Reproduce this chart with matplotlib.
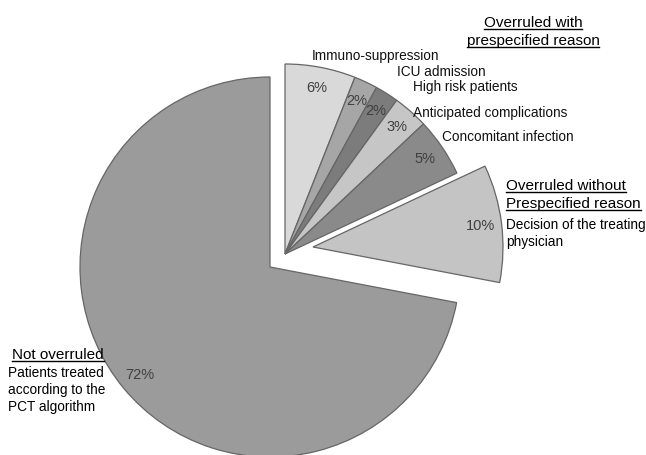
import numpy as np
import matplotlib
matplotlib.use("Agg")
import matplotlib.pyplot as plt

# slice values, clockwise from 12 o'clock
values = [6, 2, 2, 3, 5, 10, 72]
colors = ['#d9d9d9', '#a6a6a6', '#7c7c7c', '#c6c6c6', '#8a8a8a', '#c4c4c4', '#9b9b9b']
small_labels = ['Immuno-suppression', 'ICU admission', 'High risk patients',
                'Anticipated complications', 'Concomitant infection']

H = 455
main_c = (270, H - 267)
group_c = (285, H - 254)
dec_c = (313, H - 247)
R = 190

plt.rcParams['font.family'] = ['Liberation Sans', 'DejaVu Sans']

fig = plt.figure(figsize=(6.46, 4.55), dpi=100)
ax = fig.add_axes([0, 0, 1, 1])

wedges, texts, autotexts = ax.pie(values, colors=colors, startangle=90, counterclock=False,
                                  radius=R, center=main_c, autopct=lambda p: f'{p:.0f}%',
                                  pctdistance=0.89,
                                  wedgeprops=dict(edgecolor='#666666', linewidth=0.9),
                                  textprops=dict(fontsize=10.5, color='#404040'))

# pull the overruled slices away from the main slice
for i in range(6):
    c = group_c if i < 5 else dec_c
    dx, dy = c[0] - main_c[0], c[1] - main_c[1]
    wedges[i].set_center(c)
    x, y = autotexts[i].get_position()
    autotexts[i].set_position((x + dx, y + dy))

ax.set_xlim(0, 646)
ax.set_ylim(0, H)
ax.set_aspect('auto')
ax.axis('off')

fs = 9.8
hs = 11
lab_pos = [(312, 56), (397, 72), (413, 87), (413, 113), (442, 137)]
for t, (x, y) in zip(small_labels, lab_pos):
    ax.text(x, H - y, t, fontsize=fs, ha='left', va='center', color='#111111')

heads = []
heads.append(ax.text(533, H - 23, 'Overruled with', fontsize=hs, ha='center', va='center'))
heads.append(ax.text(533, H - 41, 'prespecified reason', fontsize=hs, ha='center', va='center'))
heads.append(ax.text(506, H - 186, 'Overruled without', fontsize=hs, ha='left', va='center'))
heads.append(ax.text(506, H - 204, 'Prespecified reason', fontsize=hs, ha='left', va='center'))
heads.append(ax.text(58, H - 355, 'Not overruled', fontsize=hs, ha='center', va='center'))

ax.text(506, H - 225, 'Decision of the treating', fontsize=fs, ha='left', va='center')
ax.text(506, H - 242, 'physician', fontsize=fs, ha='left', va='center')
ax.text(8, H - 373, 'Patients treated', fontsize=fs, ha='left', va='center')
ax.text(8, H - 390, 'according to the', fontsize=fs, ha='left', va='center')
ax.text(8, H - 407, 'PCT algorithm', fontsize=fs, ha='left', va='center')

# underline the group headings
fig.canvas.draw()
r = fig.canvas.get_renderer()
inv = ax.transData.inverted()
for t in heads:
    bb = t.get_window_extent(r)
    (x0, y0), (x1, _) = inv.transform([(bb.x0, bb.y0 + 1), (bb.x1, bb.y0 + 1)])
    ax.plot([x0, x1], [y0, y0], color='black', lw=1)

fig.savefig('out.png', dpi=100)
